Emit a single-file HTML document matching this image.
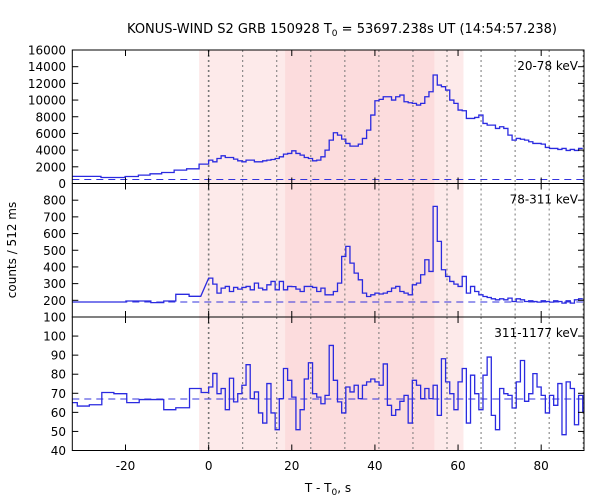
<!DOCTYPE html>
<html><head><meta charset="utf-8">
<style>
html,body{margin:0;padding:0;background:#fff;}
svg{display:block;font-family:"DejaVu Sans","Liberation Sans",sans-serif;}
</style></head>
<body>
<svg id="chart" width="600" height="500" xmlns="http://www.w3.org/2000/svg">
<text x="342" y="33" font-size="13" text-anchor="middle">KONUS-WIND S2 GRB 150928 T<tspan font-size="9" dy="3">0</tspan><tspan dy="-3"> = 53697.238s UT (14:54:57.238)</tspan></text>
<text transform="translate(16,250) rotate(-90)" font-size="12" text-anchor="middle">counts / 512 ms</text>
<text x="328" y="492" font-size="12" text-anchor="middle">T - T<tspan font-size="9" dy="3">0</tspan><tspan dy="-3">, s</tspan></text>
</svg>
<script>
// ---- data ----
const xTicks = [-20, 0, 20, 40, 60, 80];
const dotLines = [0, 8.192, 16.384, 24.576, 32.768, 40.96, 49.152, 57.344, 65.536, 73.728, 81.92, 90.112];
const lightBand = [-2.3, 61.3];
const darkBand = [18.4, 54.3];

const p1PreEdges = [-32.8, -25.9, -20.1, -16.9, -14.1, -11.3, -8.3, -5.3, -2.3, 0];
const p1PreVals = [850, 720, 840, 1000, 1160, 1320, 1600, 1760, 2320];
const p1Vals = [2800,2600,3000,3320,3120,3120,2920,2720,2600,2800,2800,2600,2600,2720,2800,2880,3000,3200,3520,3600,3920,3600,3400,3120,3000,2720,2800,3200,4000,5200,6080,5800,5320,4800,4480,4480,4720,5400,6400,8200,9920,10080,10400,10400,10000,10400,10600,9800,9680,9600,9400,9600,10400,11000,13000,11800,11600,11200,10000,9600,8800,8720,7800,7800,7920,8200,7200,7000,7000,6600,6800,6600,5800,5200,5400,5300,5200,5000,4800,4800,4720,4320,4200,4200,4080,4200,3960,4080,3960,4200];
const p1Bg = 480;

const p2PreEdges = [-32.8, -19.9, -13.9, -10.8, -7.9, -4.7, -1.9];
const p2PreVals = [190, 196, 186, 196, 236, 224];
const p2Vals = [333,297,243,273,283,253,277,267,277,283,263,303,273,263,293,313,263,313,263,283,282,267,253,283,283,277,253,273,233,233,253,303,463,523,423,363,323,243,223,233,243,238,243,253,273,283,253,243,233,293,303,353,443,373,763,553,383,343,313,297,283,343,243,283,253,233,223,217,209,203,209,203,213,193,209,203,193,197,193,189,197,193,189,197,193,183,197,183,203,209];
const p2Bg = 190;

const p3PreEdges = [-32.8, -31.6, -28.7, -25.7, -22.8, -19.7, -16.7, -10.8, -7.9, -4.6, -1.8, 0];
const p3PreVals = [65.1, 63.3, 64, 70.4, 69.8, 65.1, 66.7, 61.4, 62.4, 72.5, 70.4];
const p3Vals = [73.3,80.4,69.8,72.5,61.4,77.9,65.5,69.8,74.2,85,67.2,70.7,59.7,54.4,75.1,59.7,50.9,67.2,83,76.8,68,50.9,61.4,77.5,86,69.8,68,64.5,68.9,95.1,76.8,65.5,59.7,73.3,70.7,74.2,67.2,74.2,76,77.5,76,74.2,85.4,63.7,58.4,61.4,65.8,68.9,54.4,76.8,74.2,67.2,72.5,67.2,74.2,58.4,88.1,76,69.8,61.4,76,83,54.4,79.5,69.8,61.4,79.5,89,58.4,50.9,72.5,69.8,68.9,62.3,76,87.2,65.8,69.8,80.3,73.3,68.9,59.7,68.9,63.7,75.1,48.3,76,72.5,53.5,68.9,60.5];
const p3Bg = 67;

// ---- layout ----
const X0 = 72.3, X1 = 584, T0 = -32.8, T1 = 90.3;
const xs = t => X0 + (t - T0) / (T1 - T0) * (X1 - X0);
const panels = [
  {name:'panel-20-78kev', top:50, bot:183.5, min:0, max:16000, ticks:[0,2000,4000,6000,8000,10000,12000,14000,16000], label:'20-78 keV', pre:[p1PreEdges,p1PreVals], vals:p1Vals, bg:p1Bg},
  {name:'panel-78-311kev', top:183.5, bot:317, min:100, max:900, ticks:[100,200,300,400,500,600,700,800], label:'78-311 keV', pre:[p2PreEdges,p2PreVals], vals:p2Vals, bg:p2Bg},
  {name:'panel-311-1177kev', top:317, bot:450.5, min:40, max:110, ticks:[40,50,60,70,80,90,100], label:'311-1177 keV', pre:[p3PreEdges,p3PreVals], vals:p3Vals, bg:p3Bg}
];
const svg = document.getElementById('chart');
const NS = 'http://www.w3.org/2000/svg';
function mk(tag, attrs, parent){const e=document.createElementNS(NS,tag);for(const k in attrs)e.setAttribute(k,attrs[k]);(parent||svg).appendChild(e);return e;}

panels.forEach((p, pi) => {
  const ys = v => p.bot - (v - p.min) / (p.max - p.min) * (p.bot - p.top);
  const g = mk('g', {});
  
  
  const lb = mk('rect', {x:xs(lightBand[0]), y:p.top, width:xs(lightBand[1])-xs(lightBand[0]), height:p.bot-p.top, fill:'#fdeaea'}, g);
  
  
  const db = mk('rect', {x:xs(darkBand[0]), y:p.top, width:xs(darkBand[1])-xs(darkBand[0]), height:p.bot-p.top, fill:'#fcdcdd'}, g);
  
  
  dotLines.forEach((t, i) => {
    if (t > T1) return;
    const l = mk('line', {x1:xs(t), x2:xs(t), y1:p.top, y2:p.bot, stroke:'#777', 'stroke-width': i===0?1.6:1, 'stroke-dasharray':'2,3'}, g);
    
    
  });
  const bgl = mk('line', {x1:X0, x2:X1, y1:ys(p.bg), y2:ys(p.bg), stroke:'#3333dd', 'stroke-width':1, 'stroke-dasharray':'7,5'}, g);
  
  
  let d = '';
  const [pe, pv] = p.pre;
  for (let i = 0; i < pv.length; i++) {
    const y = ys(pv[i]).toFixed(2);
    d += (i===0 ? 'M' : 'L') + xs(pe[i]).toFixed(2) + ',' + y + 'L' + xs(pe[i+1]).toFixed(2) + ',' + y;
  }
  const startT = pe[pe.length-1];
  for (let i = 0; i < p.vals.length; i++) {
    const t0 = Math.max(startT, i), t1 = Math.min(T1, i + 1);
    if (t0 >= T1) break;
    const y = ys(p.vals[i]).toFixed(2);
    d += 'L' + xs(t0).toFixed(2) + ',' + y + 'L' + xs(t1).toFixed(2) + ',' + y;
  }
  const path = mk('path', {d:d, fill:'none', stroke:'#2a2ae0', 'stroke-width':1.3}, g);
  
  
  const fr = mk('rect', {x:X0, y:p.top, width:X1-X0, height:p.bot-p.top, fill:'none', stroke:'#000', 'stroke-width':1}, g);
  
  
  p.ticks.forEach(v => {
    const y = ys(v);
    mk('line', {x1:X0, x2:X0+6, y1:y, y2:y, stroke:'#000'}, g);
    mk('line', {x1:X1-6, x2:X1, y1:y, y2:y, stroke:'#000'}, g);
    const tx = mk('text', {x:66, y:y+4.5, 'font-size':12, 'text-anchor':'end'}, g);
    tx.textContent = v;
    
    
  });
  xTicks.forEach(t => {
    const x = xs(t);
    mk('line', {x1:x, x2:x, y1:p.bot, y2:p.bot-6, stroke:'#000'}, g);
    mk('line', {x1:x, x2:x, y1:p.top, y2:p.top+6, stroke:'#000'}, g);
    if (pi === 2) {
      const tx = mk('text', {x:x, y:470, 'font-size':12, 'text-anchor':'middle'}, g);
      tx.textContent = t;
      
      
    }
  });
  const lab = mk('text', {x:578, y:p.top+20, 'font-size':12, 'text-anchor':'end'}, g);
  lab.textContent = p.label;
  
  
});
</script>
</body></html>
